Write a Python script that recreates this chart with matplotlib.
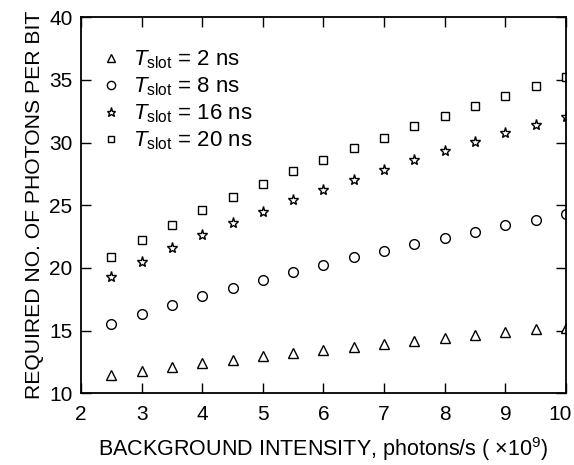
import matplotlib
matplotlib.use('Agg')
import matplotlib.pyplot as plt
from matplotlib.transforms import ScaledTranslation

# background intensity (x10^9 photons/s)
bg = [2.5, 3.0, 3.5, 4.0, 4.5, 5.0, 5.5, 6.0, 6.5, 7.0, 7.5, 8.0, 8.5, 9.0, 9.5, 10.0]

# required photons per bit for each slot width
t2 = [11.5, 11.8, 12.1, 12.4, 12.7, 12.95, 13.2, 13.5, 13.7, 13.95, 14.2, 14.45, 14.65, 14.9, 15.1, 15.25]
t8 = [15.5, 16.3, 17.05, 17.8, 18.4, 19.05, 19.7, 20.25, 20.9, 21.35, 21.9, 22.4, 22.9, 23.4, 23.85, 24.3]
t16 = [19.3, 20.5, 21.6, 22.6, 23.55, 24.5, 25.4, 26.25, 27.05, 27.8, 28.6, 29.35, 30.05, 30.75, 31.4, 32.05]
t20 = [20.9, 22.2, 23.4, 24.6, 25.65, 26.7, 27.7, 28.6, 29.55, 30.4, 31.3, 32.1, 32.9, 33.7, 34.5, 35.2]

labels = ['2 ns', '8 ns', '16 ns', '20 ns']

plt.rcParams.update({
    'font.family': ['Liberation Sans', 'DejaVu Sans'],
    'font.size': 15,
    'mathtext.fontset': 'custom',
    'mathtext.rm': 'Liberation Sans',
    'mathtext.it': 'Liberation Sans:italic',
    'mathtext.bf': 'Liberation Sans:bold',
})

fig = plt.figure(figsize=(5.74, 4.65), dpi=100)
ax = fig.add_axes([0.141, 0.154, 0.845, 0.809])

series = [(t2, '^', 7.5), (t8, 'o', 7), (t16, '*', 8), (t20, 's', 5.5)]
for (vals, mk, ms), lab in zip(series, labels):
    ax.plot(bg, vals, linestyle='none', marker=mk, markersize=ms,
            markerfacecolor='white', markeredgecolor='black', markeredgewidth=1.0,
            label=r'$T_{\rm slot}$ = ' + lab)

ax.set_xlim(2, 10)
ax.set_ylim(10, 40)
ax.set_xticks(range(2, 11))
ax.set_yticks(range(10, 41, 5))
ax.tick_params(direction='in', top=True, right=True, length=7, width=1, labelsize=15)
ax.tick_params(axis='x', pad=8)
ax.tick_params(axis='y', pad=6)
for s in ax.spines.values():
    s.set_linewidth(1.3)

# nudge the last x label so it stays inside the figure
last = ax.get_xticklabels()[-1]
last.set_transform(last.get_transform() + ScaledTranslation(-6 / 100, 0, fig.dpi_scale_trans))

ax.set_xlabel(r'BACKGROUND INTENSITY, photons/s ( $\times$10$^9$)', fontsize=15.5, labelpad=8)
ax.set_ylabel('REQUIRED NO. OF PHOTONS PER BIT', fontsize=15.2, labelpad=3.5)

ax.legend(loc='upper left', bbox_to_anchor=(0.02, 0.94), borderaxespad=0,
          frameon=False, handletextpad=0.5, handlelength=1.0,
          labelspacing=0.2, fontsize=16, markerscale=0.85)

fig.savefig('out.png', dpi=100)
